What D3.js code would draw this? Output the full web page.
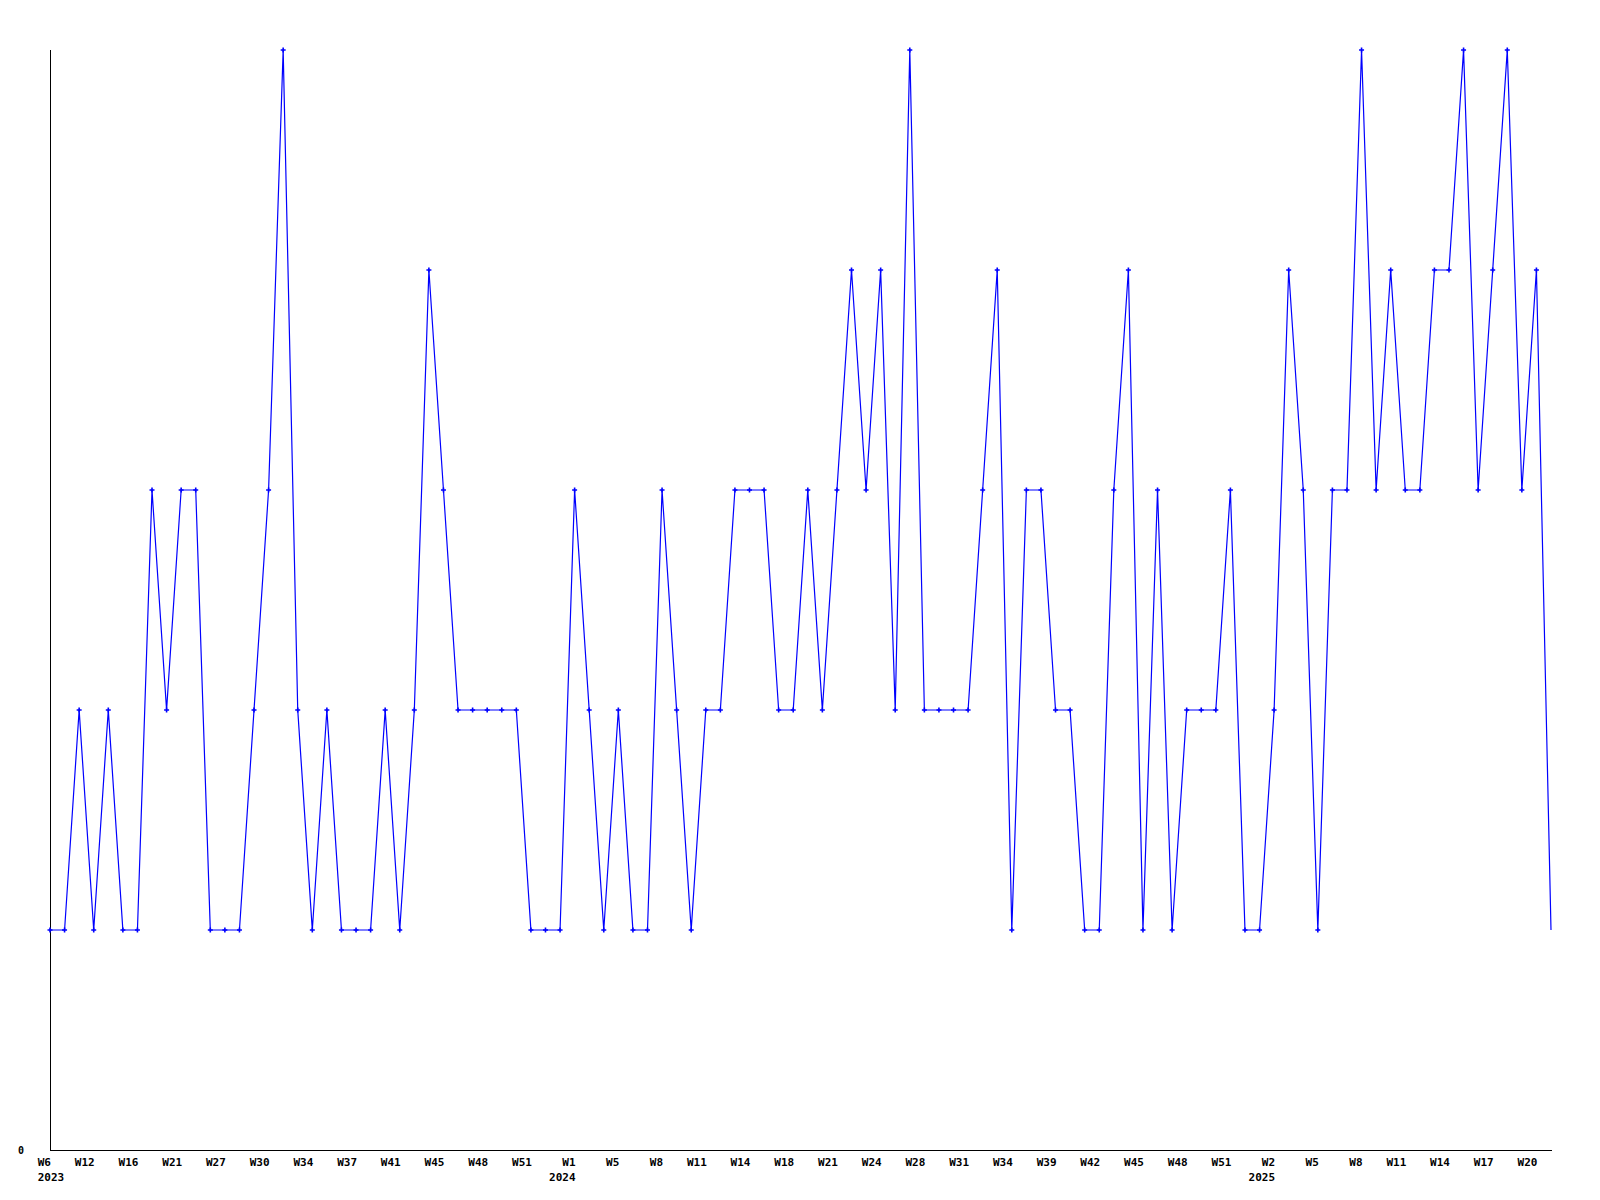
<!DOCTYPE html>
<html>
<head>
<meta charset="utf-8">
<script src="https://cdn.jsdelivr.net/npm/d3@7"></script>
<style>
  html, body { margin: 0; padding: 0; background: #ffffff; }
  svg { display: block; }
  text { font-family: "DejaVu Sans Mono", "Liberation Mono", monospace; font-weight: bold; fill: #000; }
</style>
</head>
<body>
<script>
// ---- data ----
const weeks = [
  "W6","W8","W10","W12","W13","W15","W16","W18","W20","W21","W23","W25",
  "W27","W28","W29","W30","W31","W33","W34","W35","W36","W37","W38","W40",
  "W41","W42","W44","W45","W46","W47","W48","W49","W50","W51","W52","W53",
  "W1","W2","W4","W5","W6","W7","W8","W9","W10","W11","W12","W13",
  "W14","W16","W17","W18","W19","W20","W21","W22","W23","W24","W26","W27",
  "W28","W29","W30","W31","W32","W33","W34","W36","W38","W39","W40","W41",
  "W42","W43","W44","W45","W46","W47","W48","W49","W50","W51","W52","W1",
  "W2","W3","W4","W5","W6","W7","W8","W9","W10","W11","W12","W13",
  "W14","W15","W16","W17","W18","W19","W20","W21"
];
const years = [
  2023,2023,2023,2023,2023,2023,2023,2023,2023,2023,2023,2023,
  2023,2023,2023,2023,2023,2023,2023,2023,2023,2023,2023,2023,
  2023,2023,2023,2023,2023,2023,2023,2023,2023,2023,2023,2023,
  2024,2024,2024,2024,2024,2024,2024,2024,2024,2024,2024,2024,
  2024,2024,2024,2024,2024,2024,2024,2024,2024,2024,2024,2024,
  2024,2024,2024,2024,2024,2024,2024,2024,2024,2024,2024,2024,
  2024,2024,2024,2024,2024,2024,2024,2024,2024,2024,2024,2025,
  2025,2025,2025,2025,2025,2025,2025,2025,2025,2025,2025,2025,
  2025,2025,2025,2025,2025,2025,2025,2025
];
const values = [
  1,1,2,1,2,1,1,3,2,3,3,1,
  1,1,2,3,5,2,1,2,1,1,1,2,
  1,2,4,3,2,2,2,2,2,1,1,1,
  3,2,1,2,1,1,3,2,1,2,2,3,
  3,3,2,2,3,2,3,4,3,4,2,5,
  2,2,2,2,3,4,1,3,3,2,2,1,
  1,3,4,1,3,1,2,2,2,3,1,1,
  2,4,3,1,3,3,5,3,4,3,3,4,
  4,5,3,4,5,3,4,1
];
const yTickLabels = ["0"];
const labelEvery = 3;

// ---- layout ----
const W = 1600, H = 1200;
const mLeft = 50, mRight = 1551, mTop = 50, mBottom = 1150;

const svg = d3.select("body").append("svg").attr("width", W).attr("height", H);

const idx = d3.range(values.length);
const x = d3.scalePoint().domain(idx).range([mLeft, mRight]);
const y = d3.scaleLinear().domain([0, 5]).range([mBottom, mTop]);

// axes lines
svg.append("line").attr("x1", mLeft + 0.5).attr("x2", mLeft + 0.5)
  .attr("y1", mTop).attr("y2", mBottom + 0.5)
  .attr("stroke", "#000").attr("stroke-width", 1).attr("shape-rendering", "crispEdges");
svg.append("line").attr("x1", mLeft).attr("x2", mRight + 0.5)
  .attr("y1", mBottom + 0.5).attr("y2", mBottom + 0.5)
  .attr("stroke", "#000").attr("stroke-width", 1).attr("shape-rendering", "crispEdges");

// y label
svg.selectAll(".ylab").data(yTickLabels).enter().append("text")
  .attr("class", "ylab")
  .attr("x", 18).attr("y", y(0) + 3.5)
  .attr("font-size", 10)
  .text(d => d);

// x tick labels
const tickIdx = idx.filter(i => i % labelEvery === 0);
const tickG = svg.append("g");
tickG.selectAll("text").data(tickIdx).enter().append("text")
  .attr("x", i => x(i) + 1)
  .attr("y", 1166)
  .attr("font-size", 11)
  .attr("text-anchor", "end")
  .text(i => weeks[i]);

// year labels at first displayed tick of each year
const seen = new Set();
const yearTicks = tickIdx.filter(i => { if (seen.has(years[i])) return false; seen.add(years[i]); return true; });
yearTicks.forEach((i, k) => {
  const t = svg.append("text")
    .attr("y", 1181)
    .attr("font-size", 11)
    .text(years[i]);
  const wl = tickG.selectAll("text").filter(d => d === i).node().getComputedTextLength();
  const yl = t.node().getComputedTextLength();
  const tickLeft = x(i) + 1 - wl;
  let xl = x(i) + 1 - yl;
  if (xl < tickLeft && k === 0) xl = tickLeft;
  t.attr("x", xl);
});

// line
const line = d3.line().x((d, i) => x(i)).y(d => y(d));
svg.append("path").datum(values)
  .attr("d", line)
  .attr("fill", "none")
  .attr("stroke", "#0000ff")
  .attr("stroke-width", 1.2);

// markers (last point drawn without marker, as in the original)
svg.selectAll(".mk").data(values.slice(0, values.length - 1)).enter().append("path")
  .attr("class", "mk")
  .attr("transform", (d, i) => `translate(${x(i)},${y(d)})`)
  .attr("d", "M-2.5,-0.8H-0.8V-2.5H0.8V-0.8H2.5V0.8H0.8V2.5H-0.8V0.8H-2.5Z")
  .attr("fill", "#0000ff");
</script>
</body>
</html>
